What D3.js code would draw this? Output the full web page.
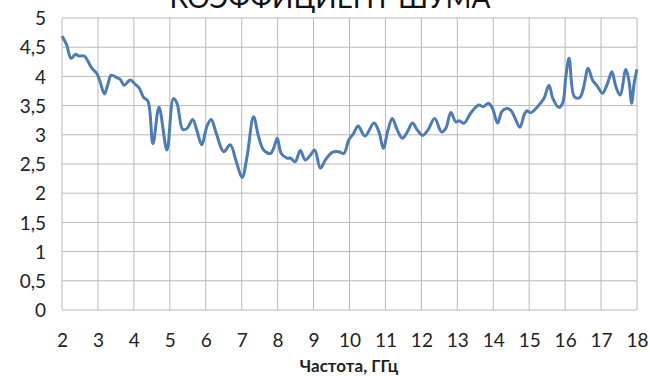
<!DOCTYPE html>
<html>
<head>
<meta charset="utf-8">
<script src="https://cdn.jsdelivr.net/npm/d3@7"></script>
<style>
  html, body { margin: 0; padding: 0; background: #fff; }
  svg { display: block; }
</style>
</head>
<body>
<svg id="chart" width="650" height="376"></svg>
<script>
// Noise figure vs frequency
const freqGHz = [
  2.0, 2.13, 2.25, 2.38, 2.47, 2.62, 2.73, 2.83, 2.97, 3.06, 3.18, 3.27, 3.37, 3.52, 3.62, 3.73, 3.90,
  4.03, 4.15, 4.27, 4.39, 4.53, 4.70, 4.92, 5.10, 5.20, 5.36, 5.48, 5.64, 5.75, 5.89,
  6.03, 6.15, 6.29, 6.50, 6.68, 6.85, 7.01, 7.15, 7.33, 7.47, 7.61, 7.80, 7.89, 7.99,
  8.10, 8.26, 8.36, 8.49, 8.63, 8.77, 8.91, 9.03, 9.19, 9.33, 9.52, 9.70, 9.84, 9.98,
  10.12, 10.24, 10.43, 10.68, 10.82, 10.94, 11.07, 11.19, 11.33, 11.47, 11.61, 11.75, 11.89,
  12.03, 12.18, 12.37, 12.56, 12.68, 12.82, 12.96, 13.05, 13.19, 13.37, 13.60, 13.72, 13.87, 13.98,
  14.12, 14.24, 14.37, 14.49, 14.61, 14.74, 14.86, 14.93, 15.05, 15.23, 15.41, 15.55, 15.66, 15.82, 15.93,
  16.02, 16.11, 16.26, 16.41, 16.51, 16.64, 16.76, 16.90, 17.04, 17.18, 17.30, 17.41, 17.53, 17.69, 17.78, 17.85, 17.92, 18.0
];
const noiseFigure = [
  4.69, 4.54, 4.31, 4.38, 4.35, 4.35, 4.25, 4.14, 4.05, 3.91, 3.70, 3.85, 4.02, 3.98, 3.95, 3.85, 3.94,
  3.87, 3.80, 3.64, 3.58, 2.85, 3.47, 2.74, 3.62, 3.54, 3.09, 3.11, 3.26, 3.08, 2.83,
  3.14, 3.26, 3.03, 2.71, 2.83, 2.54, 2.27, 2.63, 3.31, 2.97, 2.74, 2.68, 2.77, 2.94,
  2.68, 2.60, 2.60, 2.54, 2.73, 2.57, 2.65, 2.74, 2.43, 2.57, 2.70, 2.71, 2.68, 2.91,
  3.03, 3.15, 2.98, 3.20, 3.05, 2.77, 3.08, 3.28, 3.08, 2.94, 3.05, 3.20, 3.08,
  2.99, 3.08, 3.28, 3.05, 3.11, 3.38, 3.22, 3.24, 3.20, 3.37, 3.51, 3.48, 3.54, 3.45,
  3.20, 3.40, 3.45, 3.42, 3.28, 3.13, 3.34, 3.41, 3.38, 3.48, 3.62, 3.85, 3.62, 3.47, 3.54,
  4.00, 4.31, 3.65, 3.64, 3.80, 4.14, 3.94, 3.83, 3.71, 3.88, 4.08, 3.83, 3.68, 4.12, 3.91, 3.54, 3.88, 4.12
];
const xTicks = [2, 3, 4, 5, 6, 7, 8, 9, 10, 11, 12, 13, 14, 15, 16, 17, 18];
const yTicks = [0, 0.5, 1, 1.5, 2, 2.5, 3, 3.5, 4, 4.5, 5];
const titleText = "КОЭФФИЦИЕНТ ШУМА";
const xTitleText = "Частота, ГГц";

const svg = d3.select("#chart");
const font = "Lato, 'Open Sans', sans-serif";

const x = d3.scaleLinear().domain([2, 18]).range([62, 637]);
const y = d3.scaleLinear().domain([0, 5]).range([310, 18]);

const grid = svg.append("g");
grid.selectAll("line.h").data(yTicks).join("line")
  .attr("x1", x(2)).attr("x2", x(18))
  .attr("y1", d => y(d)).attr("y2", d => y(d))
  .attr("stroke", "#b8b8b8").attr("stroke-width", 1);
grid.selectAll("line.v").data(xTicks).join("line")
  .attr("x1", d => x(d)).attr("x2", d => x(d))
  .attr("y1", y(0)).attr("y2", y(5))
  .attr("stroke", "#b8b8b8").attr("stroke-width", 1);

// y-axis labels with comma decimals
const fmt = d => String(d).replace(".", ",");
const yAxis = d3.axisLeft(y).tickValues(yTicks).tickFormat(fmt).tickSize(0).tickPadding(0);
const gy = svg.append("g").attr("transform", "translate(46,0)").call(yAxis);
gy.select(".domain").remove();
gy.selectAll("text").attr("font-family", font).attr("font-size", 19).attr("fill", "#222").attr("dy", "0.35em");

const xAxis = d3.axisBottom(x).tickValues(xTicks).tickFormat(d => d).tickSize(0).tickPadding(0);
const gx = svg.append("g").attr("transform", "translate(0,333)").call(xAxis);
gx.select(".domain").remove();
gx.selectAll("text").attr("font-family", font).attr("font-size", 19).attr("fill", "#222");

const line = d3.line()
  .x((d, i) => x(freqGHz[i]))
  .y(d => y(d))
  .curve(d3.curveCatmullRom.alpha(0.5));

svg.append("path")
  .datum(noiseFigure)
  .attr("d", line)
  .attr("fill", "none")
  .attr("stroke", "#4c7cb3")
  .attr("stroke-width", 3)
  .attr("stroke-linejoin", "round");

svg.append("text")
  .attr("x", 330).attr("y", 8)
  .attr("text-anchor", "middle")
  .attr("font-family", font).attr("font-size", 28)
  .attr("fill", "#111")
  .text(titleText);

svg.append("text")
  .attr("x", 349).attr("y", 372)
  .attr("text-anchor", "middle")
  .attr("font-family", font).attr("font-size", 17).attr("font-weight", "bold")
  .attr("fill", "#222")
  .text(xTitleText);
</script>
</body>
</html>
